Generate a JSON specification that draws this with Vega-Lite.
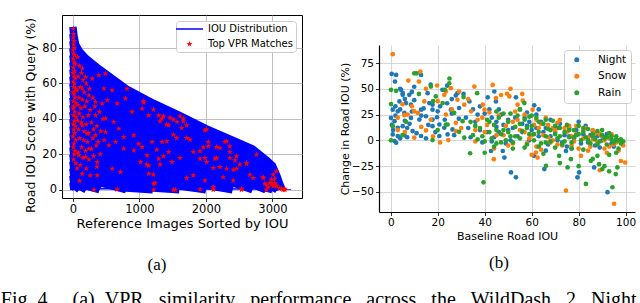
{
  "$schema": "https://vega.github.io/schema/vega-lite/v6.json",
  "background": "white",
  "padding": {"left": 0, "top": 14, "right": 0, "bottom": 0},
  "config": {
    "font": "DejaVu Sans",
    "axis": {"labelFont": "DejaVu Sans", "titleFont": "DejaVu Sans", "labelColor": "#000", "titleColor": "#000", "titleFontWeight": "normal", "tickColor": "#000", "tickSize": 3.5, "tickWidth": 0.8, "labelPadding": 2, "labelFlush": false, "labelOverlap": false, "gridWidth": 0.8},
    "legend": {"labelFont": "DejaVu Sans", "labelColor": "#000"},
    "title": {"fontWeight": "normal", "color": "#000"}
  },
  "title": {"text": "Fig. 4.\u00a0\u00a0\u00a0\u00a0(a)\u00a0\u00a0VPR\u00a0\u00a0\u00a0similarity\u00a0\u00a0\u00a0performance\u00a0\u00a0\u00a0across\u00a0\u00a0\u00a0the\u00a0\u00a0\u00a0WildDash\u00a0\u00a0\u00a02\u00a0\u00a0\u00a0Night", "orient": "bottom", "anchor": "start", "frame": "bounds", "offset": 17, "dx": -23, "font": "Liberation Serif", "fontSize": 20, "fontWeight": "normal", "color": "#000"},
  "datasets": {
    "iou": [
      {"rank":0,"c0":92,"c1":88,"c2":84,"c3":80,"c4":76,"c5":72,"c6":68,"c7":64,"c8":60,"c9":56,"c10":52,"c11":48,"c12":44,"c13":40,"c14":36,"c15":32,"c16":28,"c17":24,"c18":20,"c19":16,"c20":12,"c21":8,"c22":4,"c23":0.5},
      {"rank":15,"c0":87,"c1":83,"c2":79,"c3":75,"c4":71,"c5":67,"c6":63,"c7":59,"c8":55,"c9":51,"c10":47,"c11":43,"c12":39,"c13":35,"c14":31,"c15":27,"c16":23,"c17":19,"c18":15,"c19":11,"c20":7,"c21":3,"c22":0},
      {"rank":40,"c0":82,"c1":78,"c2":74,"c3":70,"c4":66,"c5":62,"c6":58,"c7":54,"c8":50,"c9":46,"c10":42,"c11":38,"c12":34,"c13":30,"c14":26,"c15":22,"c16":18,"c17":14,"c18":10,"c19":6,"c20":2,"c21":0},
      {"rank":100,"c0":78,"c1":74,"c2":70,"c3":66,"c4":62,"c5":58,"c6":54,"c7":50,"c8":46,"c9":42,"c10":38,"c11":34,"c12":30,"c13":26,"c14":22,"c15":18,"c16":14,"c17":10,"c18":6,"c19":2,"c20":0},
      {"rank":200,"c0":74,"c1":70,"c2":66,"c3":62,"c4":58,"c5":54,"c6":50,"c7":46,"c8":42,"c9":38,"c10":34,"c11":30,"c12":26,"c13":22,"c14":18,"c15":14,"c16":10,"c17":6,"c18":2,"c19":0},
      {"rank":400,"c0":68,"c1":64,"c2":60,"c3":56,"c4":52,"c5":48,"c6":44,"c7":40,"c8":36,"c9":32,"c10":28,"c11":24,"c12":20,"c13":16,"c14":12,"c15":8,"c16":4,"c17":0,"c18":0},
      {"rank":800,"c0":57,"c1":53,"c2":49,"c3":45,"c4":41,"c5":37,"c6":33,"c7":29,"c8":25,"c9":21,"c10":17,"c11":13,"c12":9,"c13":5,"c14":1,"c15":0,"c16":0},
      {"rank":1200,"c0":49,"c1":45,"c2":41,"c3":37,"c4":33,"c5":29,"c6":25,"c7":21,"c8":17,"c9":13,"c10":9,"c11":5,"c12":1,"c13":0,"c14":0},
      {"rank":1600,"c0":42,"c1":38,"c2":34,"c3":30,"c4":26,"c5":22,"c6":18,"c7":14,"c8":10,"c9":6,"c10":2,"c11":0,"c12":0},
      {"rank":2000,"c0":34.5,"c1":30.5,"c2":26.5,"c3":22.5,"c4":18.5,"c5":14.5,"c6":10.5,"c7":6.5,"c8":2.5,"c9":0,"c10":0},
      {"rank":2400,"c0":28,"c1":24,"c2":20,"c3":16,"c4":12,"c5":8,"c6":4,"c7":0,"c8":0},
      {"rank":2700,"c0":23,"c1":19,"c2":15,"c3":11,"c4":7,"c5":3,"c6":0},
      {"rank":2900,"c0":17,"c1":13,"c2":9,"c3":5,"c4":1,"c5":0},
      {"rank":3000,"c0":13.5,"c1":9.5,"c2":5.5,"c3":1.5,"c4":0},
      {"rank":3070,"c0":7.5,"c1":3.5,"c2":0,"c3":0},
      {"rank":3110,"c0":3,"c1":0},
      {"rank":3140,"c0":0.5},
      {"rank":3280,"c23":0.4}
    ],
    "vpr": [
      {"rank":5,"iou":91},{"rank":10,"iou":88},{"rank":3,"iou":86},{"rank":15,"iou":84},{"rank":8,"iou":82},{"rank":20,"iou":80},{"rank":2,"iou":79},{"rank":12,"iou":77},{"rank":25,"iou":76},{"rank":5,"iou":74},{"rank":18,"iou":72},{"rank":30,"iou":71},{"rank":8,"iou":69},{"rank":22,"iou":67},{"rank":3,"iou":66},{"rank":14,"iou":64},{"rank":35,"iou":63},{"rank":6,"iou":61},{"rank":25,"iou":60},{"rank":10,"iou":58},{"rank":40,"iou":57},{"rank":2,"iou":55},{"rank":18,"iou":54},{"rank":30,"iou":52},{"rank":8,"iou":50},{"rank":45,"iou":49},{"rank":15,"iou":47},{"rank":3,"iou":46},{"rank":28,"iou":44},{"rank":10,"iou":42},{"rank":50,"iou":41},{"rank":20,"iou":39},{"rank":5,"iou":37},{"rank":35,"iou":36},{"rank":12,"iou":34},{"rank":25,"iou":32},{"rank":2,"iou":30},{"rank":40,"iou":28},{"rank":15,"iou":26},{"rank":8,"iou":24},{"rank":30,"iou":22},{"rank":20,"iou":20},{"rank":10,"iou":17},{"rank":45,"iou":15},
      {"rank":70,"iou":75},{"rank":100,"iou":70},{"rank":130,"iou":66},{"rank":80,"iou":64},{"rank":150,"iou":62},{"rank":200,"iou":60},{"rank":110,"iou":58},{"rank":60,"iou":56},{"rank":170,"iou":55},{"rank":250,"iou":57},{"rank":90,"iou":52},{"rank":140,"iou":51},{"rank":210,"iou":50},{"rank":300,"iou":52},{"rank":75,"iou":48},{"rank":120,"iou":46},{"rank":180,"iou":47},{"rank":260,"iou":45},{"rank":330,"iou":47},{"rank":95,"iou":43},{"rank":150,"iou":41},{"rank":230,"iou":42},{"rank":400,"iou":44},{"rank":70,"iou":39},{"rank":125,"iou":38},{"rank":200,"iou":37},{"rank":280,"iou":38},{"rank":360,"iou":36},{"rank":450,"iou":40},{"rank":85,"iou":34},{"rank":170,"iou":33},{"rank":240,"iou":32},{"rank":310,"iou":34},{"rank":420,"iou":33},{"rank":100,"iou":29},{"rank":160,"iou":28},{"rank":220,"iou":27},{"rank":300,"iou":29},{"rank":380,"iou":27},{"rank":470,"iou":28},{"rank":130,"iou":24},{"rank":190,"iou":22},{"rank":280,"iou":23},{"rank":350,"iou":25},{"rank":410,"iou":20},{"rank":80,"iou":21},{"rank":150,"iou":18},{"rank":240,"iou":17},{"rank":310,"iou":19},{"rank":110,"iou":14},{"rank":200,"iou":12},{"rank":360,"iou":13},{"rank":60,"iou":12},{"rank":140,"iou":9},{"rank":260,"iou":8},{"rank":100,"iou":5},
      {"rank":140,"iou":68.5},{"rank":190,"iou":63.8},{"rank":290,"iou":62.8},{"rank":390,"iou":64.7},{"rank":490,"iou":65.7},{"rank":140,"iou":57.2},{"rank":240,"iou":53.4},{"rank":465,"iou":57.2},{"rank":590,"iou":56.2},{"rank":815,"iou":57},{"rank":340,"iou":49.6},{"rank":440,"iou":48.7},{"rank":515,"iou":50.6},{"rank":665,"iou":48.7},{"rank":790,"iou":51.5},{"rank":1065,"iou":49.2},{"rank":890,"iou":44},{"rank":1040,"iou":45.8},{"rank":1140,"iou":42},{"rank":1290,"iou":42},{"rank":1340,"iou":40.2},{"rank":1440,"iou":36.4},{"rank":1565,"iou":38.3},{"rank":340,"iou":42},{"rank":490,"iou":40.2},{"rank":615,"iou":38.3},{"rank":690,"iou":34.5},{"rank":140,"iou":36.4},{"rank":215,"iou":31.7},{"rank":340,"iou":30.7},{"rank":490,"iou":32.6},{"rank":640,"iou":27},{"rank":765,"iou":29.8},{"rank":915,"iou":30.7},{"rank":990,"iou":26},{"rank":1190,"iou":27},{"rank":1340,"iou":27},{"rank":915,"iou":22.2},{"rank":1040,"iou":24.1},{"rank":1115,"iou":19.4},{"rank":765,"iou":23.2},{"rank":540,"iou":25.1},{"rank":240,"iou":23.2},{"rank":90,"iou":19.4},{"rank":190,"iou":18.5},{"rank":365,"iou":15.6},{"rank":590,"iou":11.9},{"rank":715,"iou":10},{"rank":1015,"iou":15.6},{"rank":1140,"iou":13.7},{"rank":1290,"iou":17.5},{"rank":1440,"iou":21.3},{"rank":1490,"iou":15.6},{"rank":1215,"iou":3.4},{"rank":1140,"iou":9},{"rank":365,"iou":8.1},{"rank":315,"iou":0},{"rank":665,"iou":0.2},{"rank":1215,"iou":0},{"rank":1540,"iou":0},
      {"rank":1060,"iou":50},{"rank":1210,"iou":45.3},{"rank":1310,"iou":38.7},{"rank":1360,"iou":41.5},{"rank":1410,"iou":36.8},{"rank":1460,"iou":40.6},{"rank":1510,"iou":39.6},{"rank":1610,"iou":41.5},{"rank":1660,"iou":38.7},{"rank":1635,"iou":34.9},{"rank":1510,"iou":31.1},{"rank":1560,"iou":29.2},{"rank":1710,"iou":29.2},{"rank":1760,"iou":28.3},{"rank":1410,"iou":27.4},{"rank":1260,"iou":22.6},{"rank":1360,"iou":18.9},{"rank":1110,"iou":14.2},{"rank":1210,"iou":8.5},{"rank":1235,"iou":3.8},{"rank":1310,"iou":14.2},{"rank":1610,"iou":17.9},{"rank":1710,"iou":6.6},{"rank":1910,"iou":21.7},{"rank":1960,"iou":24},{"rank":2010,"iou":34},{"rank":2035,"iou":24.5},{"rank":1985,"iou":17.9},{"rank":2110,"iou":12.3},{"rank":2160,"iou":17.9},{"rank":2210,"iou":23.6},{"rank":2310,"iou":27.4},{"rank":2360,"iou":17.9},{"rank":2410,"iou":11.3},{"rank":2360,"iou":24.5},{"rank":2460,"iou":18.9},{"rank":2510,"iou":14.2},{"rank":2610,"iou":15.1},{"rank":2660,"iou":8.5},{"rank":2710,"iou":6.6},{"rank":2760,"iou":19.8},{"rank":2860,"iou":6.6},{"rank":2910,"iou":2.8},{"rank":2960,"iou":3.8},{"rank":2985,"iou":5.7},{"rank":3010,"iou":1.9},{"rank":3035,"iou":3.8},{"rank":3060,"iou":1.9},{"rank":3110,"iou":0.9},{"rank":3160,"iou":0},{"rank":3185,"iou":0},{"rank":2910,"iou":0},{"rank":2535,"iou":0},{"rank":2110,"iou":0},{"rank":1910,"iou":0.3},{"rank":1510,"iou":0},{"rank":3010,"iou":8.5},{"rank":3060,"iou":10.4},
      {"rank":1660,"iou":40.2},{"rank":1710,"iou":36.4},{"rank":1985,"iou":33.6},{"rank":2035,"iou":27},{"rank":2160,"iou":24.1},{"rank":2285,"iou":27},{"rank":2360,"iou":21.3},{"rank":1810,"iou":21.3},{"rank":1910,"iou":17.5},{"rank":2010,"iou":15.6},{"rank":2135,"iou":17.5},{"rank":2210,"iou":12.8},{"rank":2310,"iou":11.9},{"rank":2435,"iou":16.6},{"rank":2460,"iou":11.9},{"rank":2610,"iou":14.7},{"rank":1810,"iou":8.1},{"rank":1985,"iou":5.2},{"rank":2110,"iou":1.5},{"rank":2260,"iou":7.1},{"rank":2410,"iou":5.2},{"rank":2535,"iou":0.5},{"rank":2860,"iou":7.1},{"rank":2885,"iou":3.4},{"rank":2935,"iou":1.5},{"rank":2985,"iou":3.4},{"rank":3035,"iou":6.2},{"rank":3060,"iou":2.4},{"rank":3135,"iou":0.5},{"rank":3185,"iou":0.5}
    ],
    "cond": [
      {"cond":"Night","base":0.4,"chg":64.4},{"cond":"Night","base":2.3,"chg":63.5},{"cond":"Night","base":1.8,"chg":57},{"cond":"Night","base":12.9,"chg":63.5},{"cond":"Night","base":4.4,"chg":49},{"cond":"Night","base":5.1,"chg":45.8},{"cond":"Night","base":5.1,"chg":44.2},{"cond":"Night","base":7.9,"chg":44.2},{"cond":"Night","base":3.7,"chg":37.8},{"cond":"Night","base":6.5,"chg":36.2},{"cond":"Night","base":8.6,"chg":34.6},{"cond":"Night","base":16.4,"chg":36.2},{"cond":"Night","base":17.8,"chg":34.6},{"cond":"Night","base":0.85,"chg":29.8},{"cond":"Night","base":3,"chg":28.2},{"cond":"Night","base":5.8,"chg":26.6},{"cond":"Night","base":12.9,"chg":29.8},{"cond":"Night","base":17.8,"chg":29.8},{"cond":"Night","base":20,"chg":28.2},{"cond":"Night","base":25.6,"chg":29.8},{"cond":"Night","base":29.1,"chg":31.4},{"cond":"Night","base":0.1,"chg":21.8},{"cond":"Night","base":1.6,"chg":18.6},{"cond":"Night","base":8.6,"chg":21.8},{"cond":"Night","base":12.2,"chg":20.2},{"cond":"Night","base":15,"chg":23.4},{"cond":"Night","base":17.8,"chg":20.2},{"cond":"Night","base":19.7,"chg":22.4},{"cond":"Night","base":3,"chg":12.2},{"cond":"Night","base":5.1,"chg":13.8},{"cond":"Night","base":9.3,"chg":9},{"cond":"Night","base":17.8,"chg":13.8},{"cond":"Night","base":20.7,"chg":15.4},{"cond":"Night","base":22.8,"chg":12.2},{"cond":"Night","base":26.3,"chg":10.6},{"cond":"Night","base":0.85,"chg":5.8},{"cond":"Night","base":3,"chg":4.2},{"cond":"Night","base":5.8,"chg":5.1},{"cond":"Night","base":12.9,"chg":4.2},{"cond":"Night","base":20.7,"chg":4.2},{"cond":"Night","base":24.2,"chg":5.8},{"cond":"Night","base":1.6,"chg":-0.6},{"cond":"Night","base":2.3,"chg":-2.3},{"cond":"Night","base":28.4,"chg":45.8},{"cond":"Night","base":27.7,"chg":43.6},{"cond":"Night","base":15.7,"chg":45.8},{"cond":"Night","base":9,"chg":47},{"cond":"Night","base":4,"chg":50},{"cond":"Night","base":6,"chg":40},{"cond":"Night","base":2,"chg":33},{"cond":"Night","base":10,"chg":39},{"cond":"Night","base":14,"chg":31},{"cond":"Night","base":17,"chg":54},{"cond":"Night","base":24,"chg":53},{"cond":"Night","base":22,"chg":49},{"cond":"Night","base":24,"chg":36},{"cond":"Night","base":26,"chg":26},{"cond":"Night","base":29,"chg":21},{"cond":"Night","base":8,"chg":16},{"cond":"Night","base":11,"chg":7},{"cond":"Night","base":1,"chg":10},{"cond":"Night","base":4,"chg":2},{"cond":"Night","base":7,"chg":3},{"cond":"Night","base":15,"chg":2},{"cond":"Night","base":19,"chg":8},{"cond":"Night","base":23,"chg":20},{"cond":"Night","base":27,"chg":5},{"cond":"Night","base":2,"chg":24},{"cond":"Night","base":0.5,"chg":15},{"cond":"Night","base":6,"chg":19},
      {"cond":"Night","base":31,"chg":45},{"cond":"Night","base":33.5,"chg":37.8},{"cond":"Night","base":35,"chg":30},{"cond":"Night","base":32,"chg":22},{"cond":"Night","base":36,"chg":18},{"cond":"Night","base":38,"chg":10},{"cond":"Night","base":34,"chg":3},{"cond":"Night","base":41.3,"chg":41.7},{"cond":"Night","base":44.1,"chg":47.4},{"cond":"Night","base":44.8,"chg":37.8},{"cond":"Night","base":42,"chg":30},{"cond":"Night","base":43,"chg":22},{"cond":"Night","base":45,"chg":18},{"cond":"Night","base":47,"chg":25},{"cond":"Night","base":48,"chg":15},{"cond":"Night","base":50,"chg":20},{"cond":"Night","base":52,"chg":12},{"cond":"Night","base":46,"chg":8},{"cond":"Night","base":44,"chg":3},{"cond":"Night","base":53.3,"chg":41.7},{"cond":"Night","base":55,"chg":30},{"cond":"Night","base":57,"chg":22},{"cond":"Night","base":58,"chg":14},{"cond":"Night","base":56,"chg":8},{"cond":"Night","base":54,"chg":4},{"cond":"Night","base":51,"chg":0},{"cond":"Night","base":49,"chg":-3},{"cond":"Night","base":42.7,"chg":-10.3},{"cond":"Night","base":47.7,"chg":-10.3},{"cond":"Night","base":48.4,"chg":-16.7},{"cond":"Night","base":51.2,"chg":-31.1},{"cond":"Night","base":53.3,"chg":-35.9},{"cond":"Night","base":39,"chg":-2},{"cond":"Night","base":43,"chg":-1},{"cond":"Night","base":45,"chg":13},{"cond":"Night","base":40,"chg":26},{"cond":"Night","base":38,"chg":33},{"cond":"Night","base":61.1,"chg":34},{"cond":"Night","base":59,"chg":18},{"cond":"Night","base":60,"chg":10},{"cond":"Night","base":58,"chg":27},
      {"cond":"Night","base":62,"chg":25},{"cond":"Night","base":64,"chg":18},{"cond":"Night","base":65.4,"chg":-27.9},{"cond":"Night","base":66,"chg":12},{"cond":"Night","base":68,"chg":20},{"cond":"Night","base":70,"chg":8},{"cond":"Night","base":72,"chg":16},{"cond":"Night","base":74,"chg":5},{"cond":"Night","base":74.6,"chg":-10.3},{"cond":"Night","base":76,"chg":12},{"cond":"Night","base":78,"chg":2},{"cond":"Night","base":80,"chg":18},{"cond":"Night","base":80.2,"chg":-31.1},{"cond":"Night","base":79.5,"chg":-35.9},{"cond":"Night","base":82,"chg":6},{"cond":"Night","base":84,"chg":-2},{"cond":"Night","base":86,"chg":9},{"cond":"Night","base":86.6,"chg":-26.3},{"cond":"Night","base":88,"chg":4},{"cond":"Night","base":90,"chg":0},{"cond":"Night","base":92,"chg":6},{"cond":"Night","base":92.3,"chg":-50.3},{"cond":"Night","base":94,"chg":-3},{"cond":"Night","base":96,"chg":1},{"cond":"Night","base":63,"chg":4},{"cond":"Night","base":67,"chg":-4},{"cond":"Night","base":71,"chg":0},{"cond":"Night","base":75,"chg":-6},{"cond":"Night","base":77,"chg":-8},{"cond":"Night","base":83,"chg":14},{"cond":"Night","base":89,"chg":-7},{"cond":"Night","base":61,"chg":-15},{"cond":"Night","base":66,"chg":-10},{"cond":"Night","base":63,"chg":30},
      {"cond":"Night","base":33,"chg":12},{"cond":"Night","base":37,"chg":25},{"cond":"Night","base":41,"chg":8},{"cond":"Night","base":46,"chg":30},{"cond":"Night","base":50,"chg":10},{"cond":"Night","base":53,"chg":22},{"cond":"Night","base":56,"chg":16},{"cond":"Night","base":59,"chg":0},{"cond":"Night","base":62,"chg":12},{"cond":"Night","base":65,"chg":8},{"cond":"Night","base":68,"chg":4},{"cond":"Night","base":71,"chg":12},{"cond":"Night","base":73,"chg":-2},{"cond":"Night","base":76,"chg":4},{"cond":"Night","base":79,"chg":10},{"cond":"Night","base":81,"chg":-3},{"cond":"Night","base":85,"chg":5},{"cond":"Night","base":87,"chg":-5},{"cond":"Night","base":91,"chg":3},{"cond":"Night","base":95,"chg":-6},{"cond":"Night","base":4,"chg":30},{"cond":"Night","base":9,"chg":28},{"cond":"Night","base":13,"chg":24},{"cond":"Night","base":16,"chg":15},{"cond":"Night","base":21,"chg":33},{"cond":"Night","base":26,"chg":40},{"cond":"Night","base":10,"chg":52},{"cond":"Night","base":7,"chg":12},
      {"cond":"Snow","base":0.85,"chg":83.6},{"cond":"Snow","base":12.6,"chg":66.7},{"cond":"Snow","base":7.5,"chg":58},{"cond":"Snow","base":12,"chg":57},{"cond":"Snow","base":19.7,"chg":53.2},{"cond":"Snow","base":25.6,"chg":50.6},{"cond":"Snow","base":23.5,"chg":47.4},{"cond":"Snow","base":29.1,"chg":47.4},{"cond":"Snow","base":22.8,"chg":44.2},{"cond":"Snow","base":28.4,"chg":39.4},{"cond":"Snow","base":14.3,"chg":37.8},{"cond":"Snow","base":31.3,"chg":34.6},{"cond":"Snow","base":10,"chg":28.2},{"cond":"Snow","base":11.5,"chg":26.6},{"cond":"Snow","base":23.5,"chg":25},{"cond":"Snow","base":5.8,"chg":24.4},{"cond":"Snow","base":7.2,"chg":25},{"cond":"Snow","base":27.7,"chg":17},{"cond":"Snow","base":15,"chg":9.6},{"cond":"Snow","base":27.7,"chg":9},{"cond":"Snow","base":10,"chg":2.6},{"cond":"Snow","base":24.5,"chg":0.3},{"cond":"Snow","base":9,"chg":33},{"cond":"Snow","base":3,"chg":22},{"cond":"Snow","base":17,"chg":20},{"cond":"Snow","base":20,"chg":38},{"cond":"Snow","base":26,"chg":30},{"cond":"Snow","base":13,"chg":13},{"cond":"Snow","base":18,"chg":4},{"cond":"Snow","base":6,"chg":8},{"cond":"Snow","base":21,"chg":-2},{"cond":"Snow","base":30,"chg":12},{"cond":"Snow","base":33,"chg":40},{"cond":"Snow","base":35.6,"chg":52.2},{"cond":"Snow","base":43.4,"chg":53.8},{"cond":"Snow","base":39.2,"chg":34.6},{"cond":"Snow","base":49.5,"chg":45.2},{"cond":"Snow","base":50.5,"chg":42.6},{"cond":"Snow","base":56.2,"chg":38.5},{"cond":"Snow","base":54,"chg":34.6},{"cond":"Snow","base":60.4,"chg":29.8},{"cond":"Snow","base":44.8,"chg":41},{"cond":"Snow","base":39.9,"chg":29.8},{"cond":"Snow","base":34.2,"chg":28.2},{"cond":"Snow","base":43.9,"chg":-18.3},{"cond":"Snow","base":61.8,"chg":-11.9},{"cond":"Snow","base":62.5,"chg":-16.7},{"cond":"Snow","base":37,"chg":20},{"cond":"Snow","base":41,"chg":15},{"cond":"Snow","base":46,"chg":24},{"cond":"Snow","base":48,"chg":5},{"cond":"Snow","base":52,"chg":18},{"cond":"Snow","base":55,"chg":10},{"cond":"Snow","base":57,"chg":25},{"cond":"Snow","base":59,"chg":2},{"cond":"Snow","base":62,"chg":20},{"cond":"Snow","base":44,"chg":-8},{"cond":"Snow","base":50,"chg":-5},{"cond":"Snow","base":53,"chg":28},{"cond":"Snow","base":36,"chg":-1},{"cond":"Snow","base":40,"chg":8},{"cond":"Snow","base":58,"chg":-3},{"cond":"Snow","base":63,"chg":12},{"cond":"Snow","base":65,"chg":5},{"cond":"Snow","base":67,"chg":15},{"cond":"Snow","base":68,"chg":-2},{"cond":"Snow","base":70,"chg":10},{"cond":"Snow","base":72,"chg":20},{"cond":"Snow","base":73,"chg":-5},{"cond":"Snow","base":75,"chg":8},{"cond":"Snow","base":74.6,"chg":-48.7},{"cond":"Snow","base":76,"chg":14},{"cond":"Snow","base":78,"chg":-1},{"cond":"Snow","base":79,"chg":6},{"cond":"Snow","base":81,"chg":-15},{"cond":"Snow","base":82,"chg":10},{"cond":"Snow","base":84,"chg":3},{"cond":"Snow","base":85,"chg":-6},{"cond":"Snow","base":87,"chg":7},{"cond":"Snow","base":88,"chg":-2},{"cond":"Snow","base":90,"chg":4},{"cond":"Snow","base":91,"chg":-8},{"cond":"Snow","base":93,"chg":2},{"cond":"Snow","base":95,"chg":-4},{"cond":"Snow","base":95.1,"chg":-61.5},{"cond":"Snow","base":97,"chg":0},{"cond":"Snow","base":99.8,"chg":-21.5},{"cond":"Snow","base":98,"chg":-20},{"cond":"Snow","base":89,"chg":-29},{"cond":"Snow","base":64,"chg":-9},{"cond":"Snow","base":66,"chg":22},{"cond":"Snow","base":69,"chg":0},{"cond":"Snow","base":71,"chg":17},{"cond":"Snow","base":77,"chg":4},{"cond":"Snow","base":80,"chg":-8},{"cond":"Snow","base":83,"chg":12},{"cond":"Snow","base":86,"chg":1},{"cond":"Snow","base":92,"chg":-12},{"cond":"Snow","base":94,"chg":6},{"cond":"Snow","base":96,"chg":-2},{"cond":"Snow","base":60,"chg":-14},{"cond":"Snow","base":61,"chg":15},{"cond":"Snow","base":56,"chg":45},{"cond":"Snow","base":47,"chg":44},{"cond":"Snow","base":51,"chg":50},
      {"cond":"Snow","base":36,"chg":10},{"cond":"Snow","base":39,"chg":22},{"cond":"Snow","base":42,"chg":27},{"cond":"Snow","base":45,"chg":5},{"cond":"Snow","base":49,"chg":14},{"cond":"Snow","base":52,"chg":-3},{"cond":"Snow","base":54,"chg":20},{"cond":"Snow","base":57,"chg":8},{"cond":"Snow","base":60,"chg":5},{"cond":"Snow","base":62,"chg":-6},{"cond":"Snow","base":64,"chg":16},{"cond":"Snow","base":67,"chg":3},{"cond":"Snow","base":69,"chg":12},{"cond":"Snow","base":71,"chg":-4},{"cond":"Snow","base":74,"chg":12},{"cond":"Snow","base":77,"chg":-5},{"cond":"Snow","base":79,"chg":14},{"cond":"Snow","base":82,"chg":2},{"cond":"Snow","base":84,"chg":-10},{"cond":"Snow","base":86,"chg":10},{"cond":"Snow","base":89,"chg":6},{"cond":"Snow","base":91,"chg":0},{"cond":"Snow","base":93,"chg":-6},{"cond":"Snow","base":97,"chg":-10},{"cond":"Snow","base":99,"chg":-5},{"cond":"Snow","base":5,"chg":35},{"cond":"Snow","base":15,"chg":50},{"cond":"Snow","base":3,"chg":10},
      {"cond":"Rain","base":11,"chg":65},{"cond":"Rain","base":0.1,"chg":49},{"cond":"Rain","base":2.3,"chg":48},{"cond":"Rain","base":17.1,"chg":52.2},{"cond":"Rain","base":24.9,"chg":55.4},{"cond":"Rain","base":19.2,"chg":42.6},{"cond":"Rain","base":0.1,"chg":35.2},{"cond":"Rain","base":22.1,"chg":36.2},{"cond":"Rain","base":27,"chg":26.6},{"cond":"Rain","base":6.5,"chg":18},{"cond":"Rain","base":24.2,"chg":15.4},{"cond":"Rain","base":30.6,"chg":18.6},{"cond":"Rain","base":0.85,"chg":13.8},{"cond":"Rain","base":23.5,"chg":15.4},{"cond":"Rain","base":29.1,"chg":8.3},{"cond":"Rain","base":17.8,"chg":0.3},{"cond":"Rain","base":31.3,"chg":2.6},{"cond":"Rain","base":0.1,"chg":0},{"cond":"Rain","base":10,"chg":65},{"cond":"Rain","base":25,"chg":60},{"cond":"Rain","base":23,"chg":49},{"cond":"Rain","base":18,"chg":38},{"cond":"Rain","base":31,"chg":42},{"cond":"Rain","base":36.8,"chg":45.8},{"cond":"Rain","base":56.9,"chg":36.2},{"cond":"Rain","base":33.8,"chg":-12.5},{"cond":"Rain","base":39.5,"chg":-40.7},{"cond":"Rain","base":66.1,"chg":-24.7},{"cond":"Rain","base":71.7,"chg":-15},{"cond":"Rain","base":76.7,"chg":-18.3},{"cond":"Rain","base":85.2,"chg":-19.9},{"cond":"Rain","base":83.1,"chg":-42.3},{"cond":"Rain","base":75.3,"chg":-26.3},{"cond":"Rain","base":94.4,"chg":-45.5},{"cond":"Rain","base":96.5,"chg":-26.3},{"cond":"Rain","base":95.8,"chg":-32.7},{"cond":"Rain","base":88.7,"chg":-23.1},{"cond":"Rain","base":90.1,"chg":-27.9},{"cond":"Rain","base":88,"chg":-15},{"cond":"Rain","base":93,"chg":-30},{"cond":"Rain","base":91,"chg":-25},{"cond":"Rain","base":86,"chg":-18},{"cond":"Rain","base":96,"chg":-12},
      {"cond":"Rain","base":35,"chg":5},{"cond":"Rain","base":37,"chg":1},{"cond":"Rain","base":38,"chg":12},{"cond":"Rain","base":40,"chg":-1},{"cond":"Rain","base":41,"chg":20},{"cond":"Rain","base":42,"chg":8},{"cond":"Rain","base":43,"chg":2},{"cond":"Rain","base":44,"chg":15},{"cond":"Rain","base":45,"chg":-3},{"cond":"Rain","base":46,"chg":22},{"cond":"Rain","base":47,"chg":6},{"cond":"Rain","base":48,"chg":10},{"cond":"Rain","base":49,"chg":0},{"cond":"Rain","base":50,"chg":18},{"cond":"Rain","base":51,"chg":4},{"cond":"Rain","base":52,"chg":-2},{"cond":"Rain","base":53,"chg":13},{"cond":"Rain","base":54,"chg":24},{"cond":"Rain","base":55,"chg":2},{"cond":"Rain","base":56,"chg":9},{"cond":"Rain","base":57,"chg":20},{"cond":"Rain","base":58,"chg":-4},{"cond":"Rain","base":59,"chg":6},{"cond":"Rain","base":60,"chg":14},{"cond":"Rain","base":61,"chg":0},{"cond":"Rain","base":62,"chg":22},{"cond":"Rain","base":63,"chg":8},{"cond":"Rain","base":64,"chg":-3},{"cond":"Rain","base":65,"chg":16},{"cond":"Rain","base":66,"chg":4},{"cond":"Rain","base":67,"chg":11},{"cond":"Rain","base":68,"chg":-1},{"cond":"Rain","base":69,"chg":19},{"cond":"Rain","base":70,"chg":6},{"cond":"Rain","base":71,"chg":2},{"cond":"Rain","base":72,"chg":12},{"cond":"Rain","base":73,"chg":-4},{"cond":"Rain","base":74,"chg":8},{"cond":"Rain","base":75,"chg":15},{"cond":"Rain","base":76,"chg":3},{"cond":"Rain","base":77,"chg":-2},{"cond":"Rain","base":78,"chg":10},{"cond":"Rain","base":79,"chg":5},{"cond":"Rain","base":80,"chg":14},{"cond":"Rain","base":81,"chg":0},{"cond":"Rain","base":82,"chg":8},{"cond":"Rain","base":83,"chg":3},{"cond":"Rain","base":84,"chg":11},{"cond":"Rain","base":85,"chg":-3},{"cond":"Rain","base":86,"chg":6},{"cond":"Rain","base":87,"chg":1},{"cond":"Rain","base":88,"chg":9},{"cond":"Rain","base":89,"chg":-1},{"cond":"Rain","base":90,"chg":5},{"cond":"Rain","base":91,"chg":2},{"cond":"Rain","base":92,"chg":-4},{"cond":"Rain","base":93,"chg":7},{"cond":"Rain","base":94,"chg":1},{"cond":"Rain","base":95,"chg":-2},{"cond":"Rain","base":96,"chg":4},{"cond":"Rain","base":97,"chg":0},{"cond":"Rain","base":98,"chg":-3},{"cond":"Rain","base":99,"chg":-1},{"cond":"Rain","base":60,"chg":24},{"cond":"Rain","base":66,"chg":20},{"cond":"Rain","base":48,"chg":26},{"cond":"Rain","base":44,"chg":-6},{"cond":"Rain","base":52,"chg":-8},{"cond":"Rain","base":57,"chg":-7},{"cond":"Rain","base":63,"chg":-6},{"cond":"Rain","base":70,"chg":-7},{"cond":"Rain","base":77,"chg":-8},{"cond":"Rain","base":82,"chg":-9},{"cond":"Rain","base":40,"chg":-12},{"cond":"Rain","base":34,"chg":18},{"cond":"Rain","base":45,"chg":28},{"cond":"Rain","base":55,"chg":30},{"cond":"Rain","base":51,"chg":26},{"cond":"Rain","base":59,"chg":23},{"cond":"Rain","base":65,"chg":-13},{"cond":"Rain","base":72,"chg":-22},{"cond":"Rain","base":80,"chg":-25},{"cond":"Rain","base":93,"chg":-14},{"cond":"Rain","base":97,"chg":-8},
      {"cond":"Rain","base":36,"chg":14},{"cond":"Rain","base":39,"chg":4},{"cond":"Rain","base":42,"chg":18},{"cond":"Rain","base":45,"chg":10},{"cond":"Rain","base":47,"chg":-2},{"cond":"Rain","base":50,"chg":8},{"cond":"Rain","base":53,"chg":4},{"cond":"Rain","base":55,"chg":16},{"cond":"Rain","base":58,"chg":12},{"cond":"Rain","base":61,"chg":6},{"cond":"Rain","base":63,"chg":18},{"cond":"Rain","base":66,"chg":-2},{"cond":"Rain","base":68,"chg":10},{"cond":"Rain","base":70,"chg":14},{"cond":"Rain","base":72,"chg":4},{"cond":"Rain","base":74,"chg":-1},{"cond":"Rain","base":76,"chg":10},{"cond":"Rain","base":78,"chg":3},{"cond":"Rain","base":80,"chg":6},{"cond":"Rain","base":82,"chg":12},{"cond":"Rain","base":84,"chg":0},{"cond":"Rain","base":86,"chg":4},{"cond":"Rain","base":88,"chg":-4},{"cond":"Rain","base":90,"chg":10},{"cond":"Rain","base":92,"chg":3},{"cond":"Rain","base":94,"chg":4},{"cond":"Rain","base":96,"chg":0},{"cond":"Rain","base":98,"chg":1},{"cond":"Rain","base":5,"chg":5},{"cond":"Rain","base":12,"chg":45},{"cond":"Rain","base":20,"chg":10}
    ]
  },
  "columns": 2,
  "align": "none",
  "spacing": 36,
  "resolve": {"scale": {"color": "independent"}, "legend": {"color": "independent"}},
  "concat": [
    {
      "width": 240,
      "height": 183,
      "view": {"stroke": "#000", "strokeWidth": 1},
      "title": {"text": "(a)", "orient": "bottom", "frame": "group", "anchor": "middle", "dx": -25, "offset": 26.5, "font": "Liberation Serif", "fontSize": 17, "fontWeight": "normal", "color": "#000"},
      "layer": [
        {
          "data": {"name": "iou"},
          "transform": [
            {"fold": ["c0","c1","c2","c3","c4","c5","c6","c7","c8","c9","c10","c11","c12","c13","c14","c15","c16","c17","c18","c19","c20","c21","c22","c23"], "as": ["curve", "iou"]},
            {"filter": "isValid(datum.iou) && isFinite(datum.iou)"}
          ],
          "mark": {"type": "line", "clip": true, "strokeJoin": "round"},
          "encoding": {
            "x": {"field": "rank", "type": "quantitative", "scale": {"domain": [-164, 3444], "nice": false, "zero": false},
              "axis": {"values": [0, 1000, 2000, 3000], "format": "d", "title": "Reference Images Sorted by IOU", "grid": true, "gridColor": "#b0b0b0", "domain": false, "labelFontSize": 11.5, "titleFontSize": 13, "titlePadding": 2}},
            "y": {"field": "iou", "type": "quantitative", "scale": {"domain": [-4.7, 98.7], "nice": false, "zero": false},
              "axis": {"values": [0, 20, 40, 60, 80], "title": "Road IOU Score with Query (%)", "grid": true, "gridColor": "#b0b0b0", "domain": false, "labelFontSize": 11.5, "titleFontSize": 12.5, "titlePadding": 4.5, "titleY": 100}},
            "detail": {"field": "curve", "type": "nominal"},
            "strokeWidth": {"condition": {"test": "datum.curve === 'c23'", "value": 1.5}, "value": 7.5},
            "color": {"datum": "IOU Distribution", "type": "nominal",
              "scale": {"domain": ["IOU Distribution", "Top VPR Matches"], "range": ["#0000ff", "#ff0000"]},
              "legend": {"title": null, "orient": "top-right", "offset": 6, "fillColor": "rgba(255,255,255,0.85)", "strokeColor": "#cccccc", "cornerRadius": 3, "padding": 3, "symbolSize": 100, "symbolOffset": 5.5, "labelOffset": 13.5, "labelFontSize": 10, "rowPadding": 5,
                "encode": {"symbols": {"update": {
                  "shape": {"signal": "datum.value === 'IOU Distribution' ? 'M-2.7,-0.15H2.7V0.15H-2.7Z' : 'M0,-0.64L0.144,-0.198L0.609,-0.198L0.233,0.076L0.376,0.518L0,0.245L-0.376,0.518L-0.233,0.076L-0.609,-0.198L-0.144,-0.198Z'"},
                  "fill": {"signal": "datum.value === 'IOU Distribution' ? '#0000ff' : '#ff0000'"},
                  "stroke": {"value": "transparent"},
                  "strokeWidth": {"value": 0},
                  "opacity": {"value": 1}
                }}}}}
          }
        },
        {
          "data": {"name": "vpr"},
          "mark": {"type": "point", "filled": true, "size": 100, "opacity": 1, "clip": true, "shape": "M0,-0.64L0.144,-0.198L0.609,-0.198L0.233,0.076L0.376,0.518L0,0.245L-0.376,0.518L-0.233,0.076L-0.609,-0.198L-0.144,-0.198Z"},
          "encoding": {
            "x": {"field": "rank", "type": "quantitative"},
            "y": {"field": "iou", "type": "quantitative"},
            "color": {"datum": "Top VPR Matches", "type": "nominal"}
          }
        }
      ]
    },
    {
      "spacing": 20,
      "resolve": {"legend": {"color": "independent"}},
      "vconcat": [
        {
          "width": 256,
          "height": 10,
          "view": {"stroke": null},
          "data": {"values": [{}]},
          "mark": {"type": "rect", "opacity": 0},
          "encoding": {}
        },
        {
          "width": 256,
          "height": 167,
          "view": {"stroke": null},
          "title": {"text": "(b)", "orient": "bottom", "frame": "group", "anchor": "middle", "dx": -8, "offset": 13.5, "font": "Liberation Serif", "fontSize": 17, "fontWeight": "normal", "color": "#000"},
          "data": {"name": "cond"},
          "mark": {"type": "circle", "size": 22, "opacity": 1},
          "encoding": {
            "x": {"field": "base", "type": "quantitative", "scale": {"domain": [-5, 104], "nice": false, "zero": false},
              "axis": {"values": [0, 20, 40, 60, 80, 100], "title": "Baseline Road IOU", "grid": true, "gridColor": "#cccccc", "domain": true, "domainColor": "#000", "domainWidth": 1.2, "labelFontSize": 10.5, "titleFontSize": 11, "titlePadding": 2}},
            "y": {"field": "chg", "type": "quantitative", "scale": {"domain": [-69.5, 92.5], "nice": false, "zero": false},
              "axis": {"values": [-50, -25, 0, 25, 50, 75], "title": "Change in Road IOU (%)", "grid": true, "gridColor": "#cccccc", "domain": true, "domainColor": "#000", "domainWidth": 1.2, "labelFontSize": 10.5, "titleFontSize": 11, "titlePadding": 1}},
            "color": {"field": "cond", "type": "nominal",
              "scale": {"domain": ["Night", "Snow", "Rain"], "range": ["#1f77b4", "#ff7f0e", "#2ca02c"]},
              "legend": {"title": null, "orient": "top-right", "offset": 4.5, "fillColor": "rgba(255,255,255,0.85)", "strokeColor": "#cccccc", "cornerRadius": 3, "padding": 4.5, "symbolType": "circle", "symbolSize": 25, "labelFontSize": 10.5, "rowPadding": 5.5, "labelOffset": 16, "symbolOffset": 3}}
          }
        }
      ]
    }
  ]
}
